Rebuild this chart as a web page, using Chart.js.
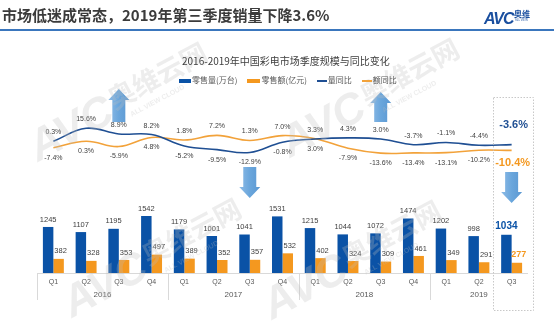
<!DOCTYPE html>
<html lang="zh-CN">
<head>
  <meta charset="UTF-8">
  <meta name="viewport" content="width=device-width, initial-scale=1.0">
  <title>2016-2019年中国彩电市场季度规模与同比变化</title>
  <script src="https://cdn.jsdelivr.net/npm/chart.js"></script>
  <style>
    body {
      margin: 0;
      background: #fff;
      font-family: "Noto Sans CJK SC", sans-serif;
    }
    .page {
      position: relative;
      width: 554px;
      height: 322px;
      overflow: hidden;
    }
    #chart {
      position: absolute;
      left: 0;
      top: 0;
    }
    .headline {
      position: absolute;
      left: 2px;
      top: 5px;
      font-size: 15px;
      line-height: 20px;
      font-weight: bold;
      color: #3b3b3b;
      white-space: nowrap;
    }
    .rule {
      position: absolute;
      left: 0;
      top: 29px;
      width: 554px;
      height: 2px;
      background: #3a76bd;
    }
    .logo {
      position: absolute;
      left: 484px;
      top: 5px;
      color: #1a4f9f;
      white-space: nowrap;
    }
    .logo .avc {
      font-family: "Liberation Sans", sans-serif;
      font-size: 16px;
      font-weight: bold;
      font-style: italic;
      letter-spacing: -1px;
    }
    .logo .cn {
      position: absolute;
      left: 30px;
      top: 3px;
      font-size: 8px;
      font-weight: bold;
    }
    .logo .en {
      position: absolute;
      left: 31px;
      top: 13px;
      font-size: 3px;
    }
    .title {
      position: absolute;
      left: 182px;
      top: 54px;
      font-size: 10px;
      line-height: 14px;
      color: #404040;
      white-space: nowrap;
    }
    .legend {
      position: absolute;
      left: 179px;
      top: 74px;
      font-size: 8px;
      line-height: 12px;
      color: #595959;
      white-space: nowrap;
    }
    .legend span.key {
      display: inline-block;
      vertical-align: middle;
      margin-right: 1px;
    }
    .legend .item {
      display: inline-block;
      margin-right: 10px;
    }
  </style>
</head>
<body>
  <div class="page">
    <canvas id="chart" width="554" height="322"></canvas>
    <div class="headline">市场低迷成常态，2019年第三季度销量下降3.6%</div>
    <div class="rule"></div>
    <div class="logo"><span class="avc">AVC</span><span class="cn">奥维</span><span class="en">ALL VIEW</span></div>
    <div class="title">2016-2019年中国彩电市场季度规模与同比变化</div>
    <div class="legend" id="legend"></div>
  </div>

  <script>
    // quarterly data, 2016Q1 - 2019Q3
    const quarters = ['Q1', 'Q2', 'Q3', 'Q4', 'Q1', 'Q2', 'Q3', 'Q4', 'Q1', 'Q2', 'Q3', 'Q4', 'Q1', 'Q2', 'Q3'];
    const years = ['2016', '2017', '2018', '2019'];
    const volume = [1245, 1107, 1195, 1542, 1179, 1001, 1041, 1531, 1215, 1044, 1072, 1474, 1202, 998, 1034];   // 零售量(万台)
    const revenue = [382, 328, 353, 497, 389, 352, 357, 532, 402, 324, 309, 461, 349, 291, 277];             // 零售额(亿元)
    const volumeYoY = [0.3, 15.6, 8.9, 8.2, -5.2, -9.5, -12.9, -0.8, 3.0, 4.3, 3.0, -3.7, -1.1, -4.4, -3.6];   // 量同比 %
    const revenueYoY = [-7.4, 0.3, -5.9, 4.8, 1.8, 7.2, 1.3, 7.0, 3.3, -7.9, -13.6, -13.4, -13.1, -10.2, -10.4]; // 额同比 %
    const upArrows = [2, 10];     // quarters marked with an up arrow
    const downArrows = [6, 14];   // quarters marked with a down arrow

    const BLUE = '#0a52a6';
    const ORANGE = '#f4981f';
    const LINE_BLUE = '#1f4f93';
    const LINE_ORANGE = '#f2a23a';
    const NUM_FONT = '"Liberation Sans", Arial, sans-serif';
    const CJK_FONT = '"Noto Sans CJK SC", sans-serif';

    // legend
    const legendItems = [
      { text: '零售量(万台)', color: BLUE, w: 12, h: 4 },
      { text: '零售额(亿元)', color: ORANGE, w: 13, h: 4 },
      { text: '量同比', color: LINE_BLUE, w: 10, h: 2 },
      { text: '额同比', color: LINE_ORANGE, w: 10, h: 2 }
    ];
    document.getElementById('legend').innerHTML = legendItems.map(it =>
      `<span class="item"><span class="key" style="width:${it.w}px;height:${it.h}px;background:${it.color}"></span>${it.text}</span>`
    ).join('');

    function pct(v) {
      return v.toFixed(1) + '%';
    }

    function drawArrow(ctx, cx, top, bottom, up) {
      const headW = 10.5, shaftW = 6.5, headH = 11;
      const g = ctx.createLinearGradient(cx - headW, 0, cx + headW, 0);
      g.addColorStop(0, '#8dbbe6');
      g.addColorStop(0.5, '#6aa6dc');
      g.addColorStop(1, '#5b98d2');
      ctx.fillStyle = g;
      ctx.beginPath();
      if (up) {
        ctx.moveTo(cx, top);
        ctx.lineTo(cx + headW, top + headH);
        ctx.lineTo(cx + shaftW, top + headH);
        ctx.lineTo(cx + shaftW, bottom);
        ctx.lineTo(cx - shaftW, bottom);
        ctx.lineTo(cx - shaftW, top + headH);
        ctx.lineTo(cx - headW, top + headH);
      } else {
        ctx.moveTo(cx - shaftW, top);
        ctx.lineTo(cx + shaftW, top);
        ctx.lineTo(cx + shaftW, bottom - headH);
        ctx.lineTo(cx + headW, bottom - headH);
        ctx.lineTo(cx, bottom);
        ctx.lineTo(cx - headW, bottom - headH);
        ctx.lineTo(cx - shaftW, bottom - headH);
      }
      ctx.closePath();
      ctx.fill();
    }

    function drawWatermark(ctx, x, y) {
      ctx.save();
      ctx.translate(x, y);
      ctx.rotate(-28 * Math.PI / 180);
      ctx.fillStyle = 'rgba(190, 190, 190, 0.28)';
      ctx.textBaseline = 'alphabetic';
      ctx.textAlign = 'left';
      ctx.font = 'bold italic 44px ' + NUM_FONT;
      ctx.fillText('AVC', 0, 0);
      ctx.font = 'bold 27px ' + CJK_FONT;
      ctx.fillText('奥维云网', 92, -10);
      ctx.font = 'bold 7px ' + NUM_FONT;
      ctx.fillText('ALL VIEW CLOUD', 104, 4);
      ctx.restore();
    }

    const annotations = {
      id: 'annotations',
      afterDatasetsDraw(chart) {
        const ctx = chart.ctx;
        const area = chart.chartArea;
        const xs = chart.scales.x;
        const step = (area.right - area.left) / quarters.length;
        ctx.save();

        // category axis: baseline, group separators, quarter and year labels
        ctx.strokeStyle = '#d9d9d9';
        ctx.lineWidth = 1;
        ctx.beginPath();
        ctx.moveTo(area.left, area.bottom + 0.5);
        ctx.lineTo(area.right, area.bottom + 0.5);
        ctx.stroke();

        let groupStart = 0;
        let yearIdx = 0;
        ctx.textAlign = 'center';
        ctx.textBaseline = 'middle';
        for (let i = 0; i <= quarters.length; i++) {
          if (i === quarters.length || (i > 0 && quarters[i] === 'Q1')) {
            const x0 = area.left + groupStart * step;
            const x1 = area.left + i * step;
            ctx.fillStyle = '#595959';
            ctx.font = '8px ' + NUM_FONT;
            ctx.fillText(years[yearIdx], (x0 + x1) / 2, area.bottom + 22);
            ctx.beginPath();
            ctx.moveTo(Math.round(x0) + 0.5, area.bottom);
            ctx.lineTo(Math.round(x0) + 0.5, area.bottom + 27);
            ctx.stroke();
            groupStart = i;
            yearIdx++;
          }
        }
        ctx.fillStyle = '#595959';
        ctx.font = '7px ' + NUM_FONT;
        quarters.forEach((q, i) => {
          ctx.fillText(q, xs.getPixelForValue(i), area.bottom + 9);
        });

        // values over the bars
        const last = quarters.length - 1;
        const volBars = chart.getDatasetMeta(2).data;
        const revBars = chart.getDatasetMeta(3).data;
        volBars.forEach((bar, i) => {
          if (i === last) {
            ctx.fillStyle = BLUE;
            ctx.font = 'bold 10px ' + NUM_FONT;
            ctx.fillText(volume[i], bar.x, bar.y - 9);
          } else {
            ctx.fillStyle = '#404040';
            ctx.font = '7.5px ' + NUM_FONT;
            ctx.fillText(volume[i], bar.x, bar.y - 7.5);
          }
        });
        revBars.forEach((bar, i) => {
          if (i === last) {
            ctx.fillStyle = ORANGE;
            ctx.font = 'bold 9px ' + NUM_FONT;
            ctx.fillText(revenue[i], bar.x + 2, bar.y - 8);
          } else {
            ctx.fillStyle = '#404040';
            ctx.font = '7.5px ' + NUM_FONT;
            ctx.fillText(revenue[i], bar.x + 2, bar.y - 7.5);
          }
        });

        // year-on-year labels: the higher value above its line, the lower one below
        const volPts = chart.getDatasetMeta(0).data;
        const revPts = chart.getDatasetMeta(1).data;
        ctx.fillStyle = '#404040';
        ctx.font = '7px ' + NUM_FONT;
        for (let i = 0; i < last; i++) {
          const v = volPts[i], r = revPts[i];
          if (volumeYoY[i] >= revenueYoY[i]) {
            ctx.fillText(pct(volumeYoY[i]), v.x, v.y - 9);
            ctx.fillText(pct(revenueYoY[i]), r.x, r.y + 10);
          } else {
            ctx.fillText(pct(revenueYoY[i]), r.x, r.y - 9);
            ctx.fillText(pct(volumeYoY[i]), v.x, v.y + 10);
          }
        }
        ctx.font = 'bold 11px ' + NUM_FONT;
        ctx.fillStyle = LINE_BLUE;
        ctx.fillText(pct(volumeYoY[last]), volPts[last].x + 2, volPts[last].y - 20);
        ctx.fillStyle = ORANGE;
        ctx.fillText(pct(revenueYoY[last]), revPts[last].x + 1, revPts[last].y + 13);

        // dotted frame around the latest quarter
        const cx = xs.getPixelForValue(last);
        ctx.strokeStyle = '#c8c8c8';
        ctx.setLineDash([1.5, 1.5]);
        ctx.strokeRect(Math.round(cx - 19) + 0.5, area.top + 0.5, 40, 213);
        ctx.setLineDash([]);

        // trend arrows
        upArrows.forEach((i, k) => {
          drawArrow(ctx, xs.getPixelForValue(i), area.top - 8 + k * 3, area.top + 25, true);
        });
        downArrows.forEach((i, k) => {
          drawArrow(ctx, xs.getPixelForValue(i), area.top + 70 + k * 5, area.top + 101 + k * 5, false);
        });

        // brand watermark
        drawWatermark(ctx, 38, 162);
        drawWatermark(ctx, 290, 158);
        drawWatermark(ctx, 72, 318);
        drawWatermark(ctx, 272, 320);

        ctx.restore();
      }
    };

    new Chart(document.getElementById('chart'), {
      type: 'bar',
      data: {
        labels: quarters,
        datasets: [
          {
            type: 'line',
            label: '量同比',
            data: volumeYoY,
            yAxisID: 'yPct',
            borderColor: LINE_BLUE,
            borderWidth: 1.6,
            tension: 0.4,
            pointRadius: 0,
            fill: false
          },
          {
            type: 'line',
            label: '额同比',
            data: revenueYoY,
            yAxisID: 'yPct',
            borderColor: LINE_ORANGE,
            borderWidth: 1.6,
            tension: 0.4,
            pointRadius: 0,
            fill: false
          },
          {
            label: '零售量(万台)',
            data: volume,
            yAxisID: 'yBar',
            backgroundColor: BLUE,
            categoryPercentage: 0.64,
            barPercentage: 1.0
          },
          {
            label: '零售额(亿元)',
            data: revenue,
            yAxisID: 'yBar',
            backgroundColor: ORANGE,
            categoryPercentage: 0.64,
            barPercentage: 1.0
          }
        ]
      },
      options: {
        responsive: false,
        animation: false,
        events: [],
        layout: {
          padding: { left: 37, right: 26, top: 97, bottom: 49 }
        },
        plugins: {
          legend: { display: false },
          tooltip: { enabled: false }
        },
        scales: {
          x: { display: false, offset: true },
          yBar: { display: false, min: 0, max: 4760 },
          yPct: { display: false, min: -154.7, max: 52.4 }
        }
      },
      plugins: [annotations]
    });
  </script>
</body>
</html>
